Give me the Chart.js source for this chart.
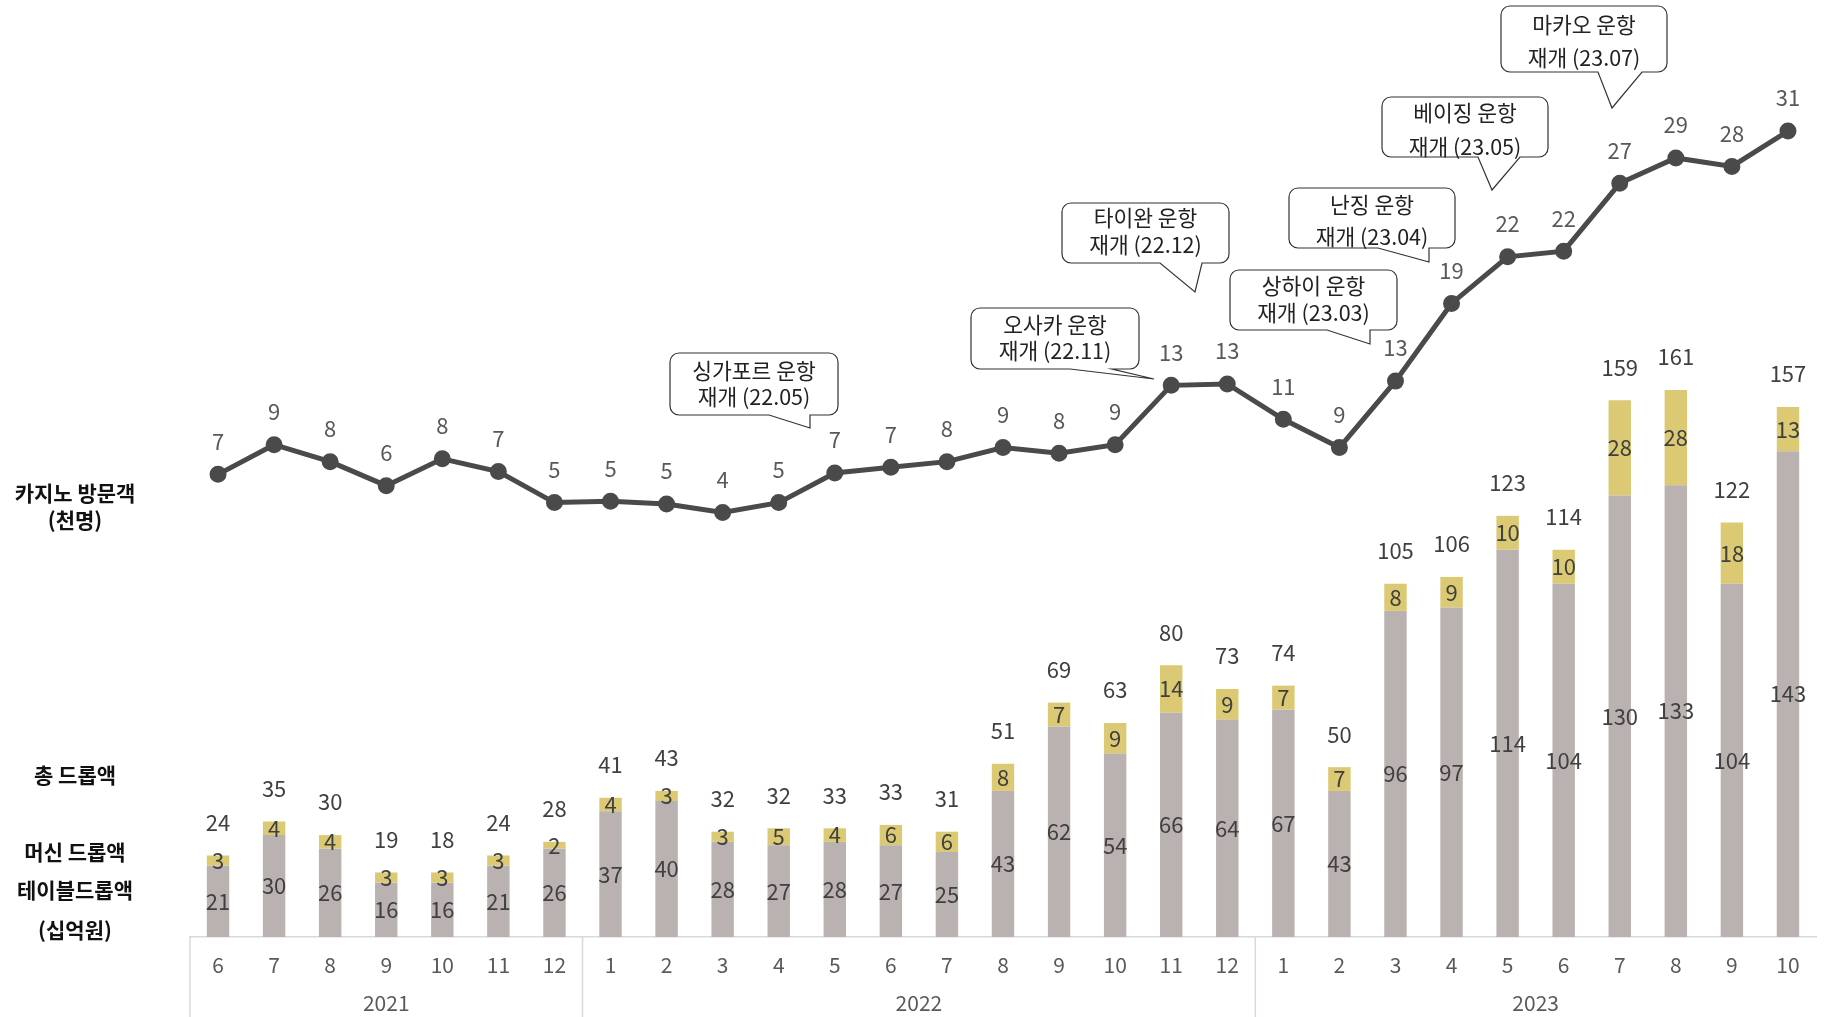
<!DOCTYPE html>
<html>
<head>
<meta charset="utf-8">
<script src="https://cdn.jsdelivr.net/npm/chart.js@4/dist/chart.umd.min.js"></script>
<style>
  html, body { margin: 0; padding: 0; background: #fff; }
  #wrap { width: 1827px; height: 1017px; }
</style>
</head>
<body>
<div id="wrap"><canvas id="casinoChart" width="1827" height="1017"></canvas></div>
<script>
// 월별 카지노 방문객(천명) / 드롭액(십억원)
const months = ['6','7','8','9','10','11','12','1','2','3','4','5','6','7','8','9','10','11','12','1','2','3','4','5','6','7','8','9','10'];
const yearLabels = ['2021', '2022', '2023'];
const yearStart = [0, 7, 19];

const visitors = [6.6, 8.7, 7.5, 5.8, 7.7, 6.8, 4.6, 4.7, 4.5, 3.9, 4.6, 6.7, 7.1, 7.5, 8.5, 8.1, 8.7, 12.9, 13.0, 10.5, 8.5, 13.2, 18.7, 22.0, 22.4, 27.2, 29.0, 28.4, 30.9];
const tableDrop = [21, 30, 26, 16, 16, 21, 26, 37, 40, 28, 27, 28, 27, 25, 43, 62, 54, 66, 64, 67, 43, 96, 97, 114, 104, 130, 133, 104, 143];
const machineDrop = [3, 4, 4, 3, 3, 3, 2, 4, 3, 3, 5, 4, 6, 6, 8, 7, 9, 14, 9, 7, 7, 8, 9, 10, 10, 28, 28, 18, 13];
const totalDrop = [24, 35, 30, 19, 18, 24, 28, 41, 43, 32, 32, 33, 33, 31, 51, 69, 63, 80, 73, 74, 50, 105, 106, 123, 114, 159, 161, 122, 157];

// 말풍선 (box: l,t,r,b / tail: base x1, base x2, tip x, tip y)
const callouts = [
    { lines: ['싱가포르 운항', '재개 (22.05)'], box: [670, 353, 838, 415], tail: [769, 810, 810, 428], textY: [371, 397] },
    { lines: ['오사카 운항', '재개 (22.11)'], box: [971, 308, 1139, 369], tail: [1070, 1112, 1154, 379], textY: [325, 351] },
    { lines: ['타이완 운항', '재개 (22.12)'], box: [1062, 203, 1229, 263], tail: [1160, 1202, 1195, 292], textY: [218, 245] },
    { lines: ['상하이 운항', '재개 (23.03)'], box: [1230, 270, 1397, 330], tail: [1327, 1370, 1370, 344], textY: [286, 313] },
    { lines: ['난징 운항', '재개 (23.04)'], box: [1289, 188, 1455, 248], tail: [1378, 1429, 1429, 262], textY: [205, 237] },
    { lines: ['베이징 운항', '재개 (23.05)'], box: [1382, 97, 1548, 157], tail: [1478, 1520, 1492, 190], textY: [113, 147] },
    { lines: ['마카오 운항', '재개 (23.07)'], box: [1501, 6, 1667, 72], tail: [1598, 1642, 1612, 108], textY: [25, 58] }
];

const sideLabels = [
    { text: '카지노 방문객', y: 493 },
    { text: '(천명)', y: 520 },
    { text: '총 드롭액', y: 775 },
    { text: '머신 드롭액', y: 852 },
    { text: '테이블드롭액', y: 890 },
    { text: '(십억원)', y: 930 }
];

const FONT = "'Noto Sans CJK KR', 'Noto Sans', sans-serif";
Chart.defaults.font.family = FONT;

const calloutPath = (ctx, c) => {
    const [l, t, r, b] = c.box;
    const [bx1, bx2, tx, ty] = c.tail;
    const rad = 9;
    ctx.beginPath();
    ctx.moveTo(l + rad, t);
    ctx.lineTo(r - rad, t);
    ctx.arcTo(r, t, r, t + rad, rad);
    ctx.lineTo(r, b - rad);
    ctx.arcTo(r, b, r - rad, b, rad);
    ctx.lineTo(bx2, b);
    ctx.lineTo(tx, ty);
    ctx.lineTo(bx1, b);
    ctx.lineTo(l + rad, b);
    ctx.arcTo(l, b, l, b - rad, rad);
    ctx.lineTo(l, t + rad);
    ctx.arcTo(l, t, l + rad, t, rad);
    ctx.closePath();
}

const labelPlugin = {
    id: 'labelPlugin',
    afterDatasetsDraw(chart) {
        const ctx = chart.ctx;
        const lineMeta = chart.getDatasetMeta(0);
        const tableMeta = chart.getDatasetMeta(1);
        const machineMeta = chart.getDatasetMeta(2);
        ctx.save();
        ctx.font = '22px ' + FONT;
        ctx.textAlign = 'center';
        ctx.textBaseline = 'middle';
        for (let i = 0; i < months.length; i++) {
            const tb = tableMeta.data[i];
            const mb = machineMeta.data[i];
            ctx.fillStyle = '#404040';
            ctx.fillText(tableDrop[i], tb.x, (tb.y + tb.base) / 2);
            ctx.fillText(machineDrop[i], mb.x, (mb.y + mb.base) / 2);
            ctx.fillText(totalDrop[i], mb.x, mb.y - 33);
            const pt = lineMeta.data[i];
            ctx.fillStyle = '#595959';
            ctx.fillText(Math.round(visitors[i]), pt.x, pt.y - 33);
        }
        ctx.restore();
    },
    afterDraw(chart) {
        const ctx = chart.ctx;
        const x = chart.scales.x;
        const area = chart.chartArea;
        const step = x.getPixelForValue(1) - x.getPixelForValue(0);
        ctx.save();
        // year group box
        ctx.strokeStyle = '#d9d9d9';
        ctx.lineWidth = 1.5;
        for (let k = 0; k < yearStart.length; k++) {
            const sx = x.getPixelForValue(yearStart[k]) - step / 2;
            ctx.beginPath();
            ctx.moveTo(sx, area.bottom);
            ctx.lineTo(sx, chart.height);
            ctx.stroke();
        }
        ctx.font = '21px ' + FONT;
        ctx.fillStyle = '#595959';
        ctx.textAlign = 'center';
        ctx.textBaseline = 'middle';
        for (let k = 0; k < yearLabels.length; k++) {
            const from = yearStart[k];
            const to = k + 1 < yearStart.length ? yearStart[k + 1] - 1 : months.length - 1;
            const cx = (x.getPixelForValue(from) + x.getPixelForValue(to)) / 2;
            ctx.fillText(yearLabels[k], cx, 1003);
        }
        // side labels
        ctx.font = 'bold 21px ' + FONT;
        ctx.fillStyle = '#111';
        sideLabels.forEach(s => ctx.fillText(s.text, 75, s.y));
        // callouts
        callouts.forEach(c => {
            calloutPath(ctx, c);
            ctx.fillStyle = '#fff';
            ctx.fill();
            ctx.strokeStyle = '#333';
            ctx.lineWidth = 1.2;
            ctx.stroke();
            ctx.font = '21.5px ' + FONT;
            ctx.fillStyle = '#222';
            const cx = (c.box[0] + c.box[2]) / 2;
            ctx.fillText(c.lines[0], cx, c.textY[0]);
            ctx.fillText(c.lines[1], cx, c.textY[1]);
        });
        ctx.restore();
    }
};

new Chart(document.getElementById('casinoChart'), {
    type: 'bar',
    data: {
        labels: months,
        datasets: [{
            type: 'line',
            label: '카지노 방문객',
            data: visitors,
            yAxisID: 'y2',
            borderColor: '#4a4a4a',
            backgroundColor: '#4a4a4a',
            borderWidth: 5,
            pointRadius: 6,
            pointHoverRadius: 6,
            tension: 0,
            order: 0
        }, {
            label: '테이블드롭액',
            data: tableDrop,
            yAxisID: 'y',
            stack: 'drop',
            backgroundColor: '#bab2b0',
            barPercentage: 0.4,
            categoryPercentage: 1,
            order: 1
        }, {
            label: '머신 드롭액',
            data: machineDrop,
            yAxisID: 'y',
            stack: 'drop',
            backgroundColor: '#dbca73',
            barPercentage: 0.4,
            categoryPercentage: 1,
            order: 1
        }]
    },
    options: {
        responsive: false,
        animation: false,
        layout: { padding: { left: 190, right: -5, top: 10, bottom: 0 } },
        plugins: {
            legend: { display: false },
            tooltip: { enabled: false }
        },
        scales: {
            x: {
                stacked: true,
                grid: { display: false, drawTicks: false },
                border: { display: true, color: '#d9d9d9', width: 1.5 },
                ticks: {
                    font: { size: 21 },
                    color: '#595959',
                    padding: 15,
                    maxRotation: 0,
                    autoSkip: false
                },
                afterFit: (scale) => { scale.height = 80; }
            },
            y: {
                display: false,
                stacked: true,
                min: 0,
                max: 272.6
            },
            y2: {
                display: false,
                min: -26.15,
                max: 39.4
            }
        }
    },
    plugins: [labelPlugin]
});
</script>
</body>
</html>
